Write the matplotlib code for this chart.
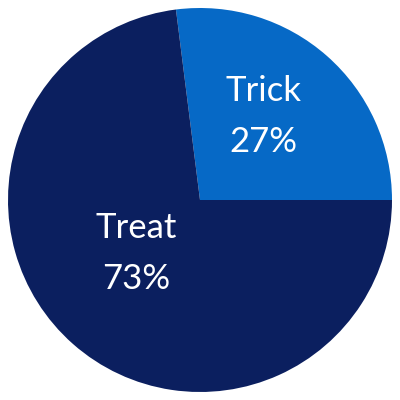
import matplotlib
matplotlib.use("Agg")
import matplotlib.pyplot as plt

categories = ["Trick", "Treat"]
values = [27, 73]
colors = ["#0669C6", "#0B1F5F"]
label_pos = [(0.33, 0.570, 0.300), (-0.33, -0.145, -0.410)]

fig = plt.figure(figsize=(4, 4), dpi=100)
ax = fig.add_axes([0, 0, 1, 1])
ax.pie(values, colors=colors, startangle=0, counterclock=True, radius=1.0,
       wedgeprops=dict(linewidth=0))
lim = 200 / 192
ax.set_xlim(-lim, lim)
ax.set_ylim(-lim, lim)
ax.set_aspect("equal")
ax.axis("off")
for cat, v, (x, y1, y2) in zip(categories, values, label_pos):
    ax.text(x, y1, cat, color="white", fontsize=25, family="Lato",
            ha="center", va="center")
    ax.text(x, y2, f"{v}%", color="white", fontsize=25, family="Lato",
            ha="center", va="center")
fig.savefig("out.png", dpi=100, facecolor="white")
